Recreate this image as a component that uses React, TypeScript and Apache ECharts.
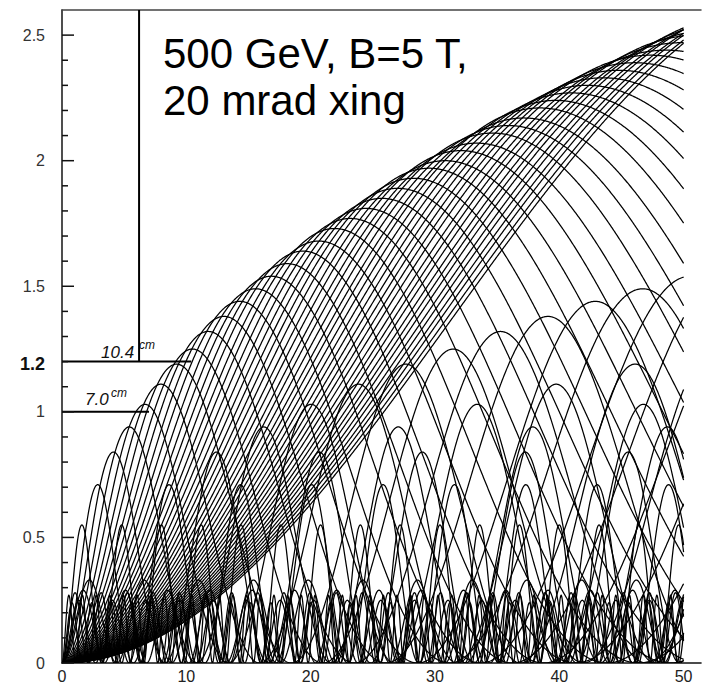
import React, { useEffect, useRef } from 'react';
import * as echarts from 'echarts';

// Axis ranges / ticks
const X_MIN = 0;
const X_MAX = 51.4;
const X_STEP = 10;
const Y_MIN = 0;
const Y_MAX = 2.6;
const Y_MAJOR = 0.5;
const majorTickValues = [0, 0.5, 1, 1.5, 2, 2.5];
const minorTickValues = [
  0.1, 0.2, 0.3, 0.4, 0.6, 0.7, 0.8, 0.9, 1.1, 1.2, 1.3, 1.4,
  1.6, 1.7, 1.8, 1.9, 2.1, 2.2, 2.3, 2.4,
];

// Main family of tracks: z of first maximum (cm) and maximum radius (cm)
const mainHalfPeriod = [
  1.6, 2.87, 4.14, 5.41, 6.68, 7.95, 9.22, 10.49, 11.76, 13.03,
  14.3, 15.57, 16.84, 18.11, 19.38, 20.65, 21.92, 23.19, 24.46, 25.73,
  27.0, 28.27, 29.54, 30.81, 32.08, 33.35, 34.62, 35.89, 37.16, 38.43,
  39.7, 40.97, 42.24, 43.51, 44.78, 46.05, 47.32, 48.59, 49.86, 51.13,
  52.4, 53.67, 54.94, 56.21, 57.48, 58.75, 60.02, 61.29, 62.56,
];
const mainMaxRadius = [
  0.55, 0.71, 0.84, 0.94, 1.03, 1.11, 1.19, 1.25, 1.32, 1.38,
  1.44, 1.49, 1.54, 1.59, 1.64, 1.68, 1.73, 1.77, 1.81, 1.85,
  1.89, 1.93, 1.97, 2.0, 2.04, 2.07, 2.11, 2.14, 2.17, 2.21,
  2.24, 2.27, 2.3, 2.33, 2.36, 2.39, 2.42, 2.44, 2.47, 2.5,
  2.52, 2.55, 2.58, 2.6, 2.63, 2.65, 2.68, 2.7, 2.73,
];

// Low-pT tracks near the beam
const lowHalfPeriod = [0.55, 0.8, 1.05, 1.35, 1.7, 2.2];
const lowMaxRadius = [0.27, 0.24, 0.28, 0.25, 0.29, 0.33];

// Hand-drawn reference lines
const cutRadius = [1.2, 1.0];
const cutLength = [10.4, 7.0];
const verticalZ = 6.2;

const Z_END = 50;

export default function App() {
  const ref = useRef<HTMLDivElement>(null);

  useEffect(() => {
    if (!ref.current) return;
    const chart = echarts.init(ref.current, undefined, { renderer: 'svg' });

    const halfPeriods = [...mainHalfPeriod, ...lowHalfPeriod];
    const maxRadii = [...mainMaxRadius, ...lowMaxRadius];
    const trackData = halfPeriods.map((_, i) => [i, 0]);

    const font = '"Liberation Sans", Arial, Helvetica, sans-serif';

    const option: any = {
      animation: false,
      backgroundColor: '#ffffff',
      grid: { left: 62, top: 10, right: 3, bottom: 24, containLabel: false },
      xAxis: [
        {
          type: 'value',
          min: X_MIN,
          max: X_MAX,
          interval: X_STEP,
          position: 'bottom',
          axisLine: { show: true, onZero: false, lineStyle: { color: '#111', width: 1.6 } },
          axisTick: { show: false },
          splitLine: { show: false },
          axisLabel: { color: '#222', fontSize: 16, margin: 5, fontFamily: font, showMaxLabel: false },
        },
        {
          type: 'value',
          min: X_MIN,
          max: X_MAX,
          position: 'top',
          axisLine: { show: true, onZero: false, lineStyle: { color: '#444', width: 1.5 } },
          axisTick: { show: false },
          axisLabel: { show: false },
          splitLine: { show: false },
        },
      ],
      yAxis: {
        type: 'value',
        min: Y_MIN,
        max: Y_MAX,
        interval: Y_MAJOR,
        axisLine: { show: true, onZero: false, lineStyle: { color: '#222', width: 1.6 } },
        axisTick: { show: false },
        minorTick: { show: false },
        axisLabel: { color: '#333', fontSize: 16, margin: 17, fontFamily: font, showMaxLabel: false },
        splitLine: { show: false },
      },
      series: [
        {
          type: 'custom',
          name: 'tracks',
          coordinateSystem: 'cartesian2d',
          clip: true,
          silent: true,
          data: trackData,
          encode: { x: 0, y: 1 },
          renderItem: (params: any, api: any) => {
            const idx = api.value(0);
            const zp = halfPeriods[idx];
            const amp = maxRadii[idx];
            const step = Math.min(0.05, zp / 24);
            const pts: number[][] = [];
            const n = Math.ceil(Z_END / step);
            for (let j = 0; j <= n; j++) {
              const z = Math.min(Z_END, j * step);
              const s = Math.sin((Math.PI * z) / (2 * zp));
              pts.push(api.coord([z, amp * s * s]));
            }
            return {
              type: 'polyline',
              shape: { points: pts },
              style: { fill: 'none', stroke: '#000', lineWidth: 1.25 },
            };
          },
        },
        ...cutRadius.map((r, i) => ({
          type: 'line',
          symbol: 'none',
          silent: true,
          lineStyle: { color: '#000', width: 2 },
          data: [
            [0, r],
            [cutLength[i], r],
          ],
        })),
        {
          type: 'line',
          symbol: 'none',
          silent: true,
          lineStyle: { color: '#000', width: 2 },
          data: [
            [verticalZ, cutRadius[0]],
            [verticalZ, Y_MAX],
          ],
        },
      ],
      graphic: [
        {
          id: 'title1',
          type: 'text',
          x: 163,
          y: 53,
          style: { text: '500 GeV, B=5 T,', font: `42px ${font}`, fill: '#000', align: 'left', verticalAlign: 'middle' },
        },
        {
          id: 'title2',
          type: 'text',
          x: 163,
          y: 100,
          style: { text: '20 mrad xing', font: `42px ${font}`, fill: '#000', align: 'left', verticalAlign: 'middle' },
        },
        {
          id: 'n104',
          type: 'text',
          x: 101,
          y: 352,
          style: { text: '10.4', font: `italic 17px ${font}`, fill: '#111', align: 'left', verticalAlign: 'middle' },
        },
        {
          id: 'n104cm',
          type: 'text',
          x: 139,
          y: 345,
          style: { text: 'cm', font: `italic 12px ${font}`, fill: '#111', align: 'left', verticalAlign: 'middle' },
        },
        {
          id: 'n70',
          type: 'text',
          x: 85,
          y: 399,
          style: { text: '7.0', font: `italic 17px ${font}`, fill: '#111', align: 'left', verticalAlign: 'middle' },
        },
        {
          id: 'n70cm',
          type: 'text',
          x: 111,
          y: 393,
          style: { text: 'cm', font: `italic 12px ${font}`, fill: '#111', align: 'left', verticalAlign: 'middle' },
        },
        {
          id: 'n12',
          type: 'text',
          x: 20,
          y: 364,
          style: { text: '1.2', font: `bold 18px ${font}`, fill: '#111', align: 'left', verticalAlign: 'middle' },
        },
      ],
    };

    chart.setOption(option);

    // Inward y-axis ticks placed through the chart's own y scale
    const tickEls: any[] = [];
    const addTicks = (values: number[], len: number, prefix: string) => {
      values.forEach((v, i) => {
        const p = chart.convertToPixel({ gridIndex: 0 }, [0, v]) as any;
        if (!Array.isArray(p)) return;
        tickEls.push({
          id: `${prefix}${i}`,
          type: 'line',
          z: 50,
          silent: true,
          shape: { x1: p[0], y1: p[1], x2: p[0] + len, y2: p[1] },
          style: { stroke: '#111', lineWidth: 1.5 },
        });
      });
    };
    addTicks(majorTickValues, 12, 'major');
    addTicks(minorTickValues, 6, 'minor');
    chart.setOption({ graphic: tickEls });

    return () => chart.dispose();
  }, []);

  return (
    <div
      ref={ref}
      style={{ position: 'fixed', left: 0, top: 0, width: 704, height: 687, background: '#fff' }}
    />
  );
}
